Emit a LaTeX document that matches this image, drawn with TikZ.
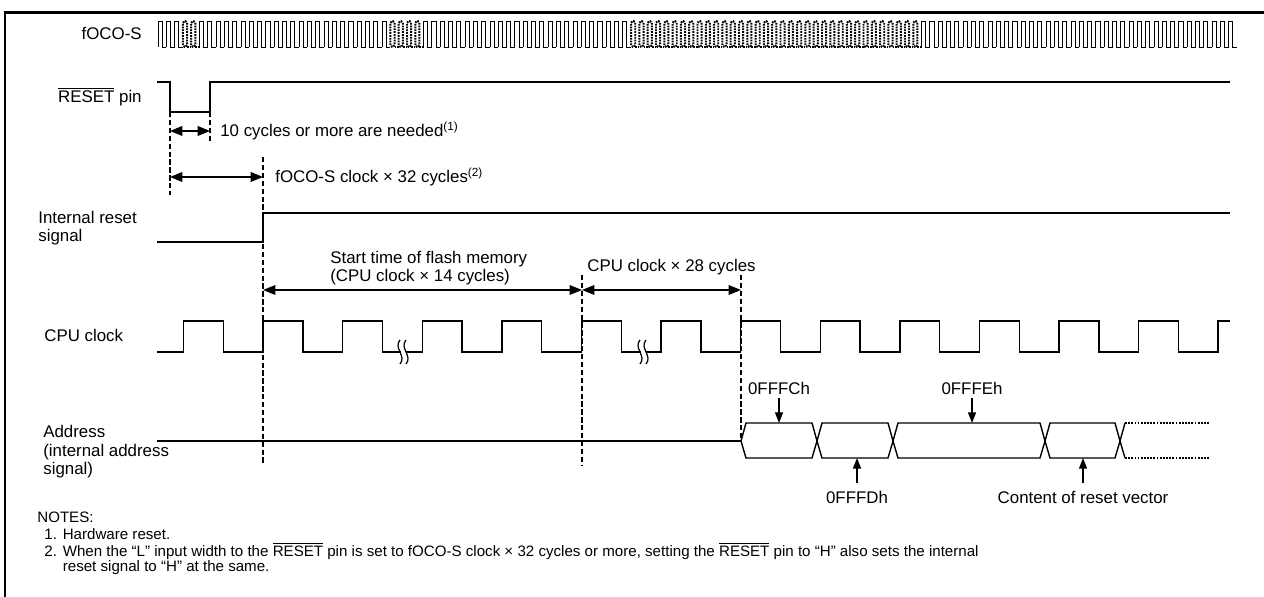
\documentclass[tikz,border=0pt]{standalone}
\usepackage{fontspec}
\setmainfont{Liberation Sans}
\usepackage{tikz}
\usetikzlibrary{arrows.meta,positioning,calc}
\tikzset{
    >={Triangle[length=7pt,width=5.5pt]},
    lbl/.style={inner sep=0pt, font={\fontsize{9.6pt}{10.5pt}\selectfont}},
    lbll/.style={lbl, anchor=west, align=left},
    wave/.style={draw, line width=0.8pt},
    fwave/.style={draw, line width=0.55pt},
    fdot/.style={draw, line width=1.1pt, dash pattern=on 1pt off 0.6pt},
    guide/.style={draw, line width=1.3pt, dash pattern=on 3pt off 1.5pt},
    dim/.style={draw, line width=0.6pt, <->},
    ptr/.style={draw, line width=0.8pt, -{Triangle[length=6pt,width=4.5pt]}},
    bus/.style={draw, line width=0.8pt},
    busdot/.style={draw, line width=0.9pt, dash pattern=on 1pt off 0.8pt},
    frame/.style={draw, line width=1.7pt},
    note/.style={inner sep=0pt, anchor=west, font={\fontsize{8.6pt}{10pt}\selectfont}},
}
\newcommand{\rst}{$\overline{\mbox{RESET}}$}
\newcommand{\nnum}[1]{\makebox[10.5pt][l]{#1}}

\begin{document}
\begin{tikzpicture}[x=0.02cm, y=-0.02cm]
\useasboundingbox (0,0) rectangle (1264,597);
% frame
\coordinate (fr0) at (5,597);
\coordinate (fr1) at (5,13);
\coordinate (fr2) at (1264,13);
\draw[frame] (fr0) -- (fr1) -- (fr2);

% signal names
\node(foco) at (142,33)[lbl, anchor=east]{fOCO-S};
\node(rstpin) at (142,97)[lbl, anchor=east]{\rst{} pin};
\node(intrst) at (38,228)[lbll]{Internal reset\\signal};
\node(cpuclk) at (44,335)[lbll]{CPU clock};
\node(addr) at (43,452)[lbll]{Address\\(internal address\\signal)};

% fOCO-S clock
\foreach \a/\b in {0/2,5/27,32/56,92/129}
  \foreach \i in {\a,...,\b}
    \draw[fwave] ({158+8.3*\i},47) -- ++(0,-26) -- ++(4.15,0) -- ++(0,26) -- ++(4.15,0);
\foreach \a/\b in {3/4,28/31,57/91}
  \foreach \i in {\a,...,\b}{
    \draw[fdot, rounded corners=1pt] ({158+8.3*\i},47) -- ++(0,-26) -- ++(4.15,0) -- ++(0,26) -- cycle;
    \draw[fdot] ({162.15+8.3*\i},47) -- ++(4.15,0);
  }

% RESET pin, internal reset, address
\draw[wave] (157,82) -- (170,82) -- (170,112) -- (210,112) -- (210,82) -- (1230,82);
\draw[wave] (157,242) -- (263,242) -- (263,213) -- (1230,213);
\draw[wave] (157,441) -- (741,441);

% CPU clock
\draw[wave] (157,352) foreach \k in {-2,0,...,22}{
    -- ({263+39.8*\k},352) -- ++(0,-31) -- ++(39.8,0) -- ++(0,31) }
    -- (1218,352) -- (1218,321) -- (1230,321);
\foreach \bx in {403,643}{
  \fill[white] ({\bx-2},348) rectangle ({\bx+3},356);
  \draw[line width=0.7pt] ({\bx-3},340) .. controls ({\bx-10},348) and ({\bx+4},356) .. ({\bx-3},364);
  \draw[line width=0.7pt] ({\bx+3},340) .. controls ({\bx-4},348) and ({\bx+10},356) .. ({\bx+3},364);
}

% guide lines
\coordinate (g1t) at (170,112);
\coordinate (g1b) at (170,195);
\coordinate (g2t) at (210,112);
\coordinate (g2b) at (210,143);
\coordinate (g3t) at (263,157);
\coordinate (g3b) at (263,465);
\coordinate (g4t) at (582,275);
\coordinate (g4b) at (582,465);
\coordinate (g5t) at (741,275);
\coordinate (g5b) at (741,441);
\foreach \g in {1,...,5}
  \draw[guide] (g\g t) -- (g\g b);

% timing spans
\coordinate (d1a) at (170,131);
\coordinate (d1b) at (210,131);
\coordinate (d2a) at (170,177);
\coordinate (d2b) at (263,177);
\coordinate (d3a) at (263,290);
\coordinate (d3b) at (582,290);
\coordinate (d4b) at (741,290);
\draw[dim, line width=0.8pt] (d1a) -- (d1b);
\draw[dim, line width=0.8pt] (d2a) -- (d2b);
\draw[dim] (d3a) -- (d3b);
\draw[dim] (d3b) -- (d4b);
\node(need) at (220,131)[lbll]{10 cycles or more are needed\textsuperscript{(1)}};
\node(foco32) at (275,177)[lbll]{fOCO-S clock × 32 cycles\textsuperscript{(2)}};
\node(flash) at (330,268)[lbll]{Start time of flash memory\\(CPU clock × 14 cycles)};
\node(cpu28) at (587,267)[lbll]{CPU clock × 28 cycles};

% address bus
\foreach \p/\q in {741/817,817/893,893/1045,1045/1120}
  \draw[bus] (\p,441) -- ({\p+5},423) -- ({\q-5},423) -- (\q,441) -- ({\q-5},458) -- ({\p+5},458) -- cycle;
\coordinate (bend) at (1120,441);
\draw[bus] (bend) -- (1125,423) (bend) -- (1125,458);
\draw[busdot] (1125,423) -- (1210,423) (1125,458) -- (1210,458);

\node(afc) at (779,388)[lbl]{0FFFCh};
\node(afe) at (972,388)[lbl]{0FFFEh};
\node(afd) at (857,497)[lbl]{0FFFDh};
\node(avec) at (1083,497)[lbl]{Content of reset vector};
\coordinate (pfc) at (779,423);
\coordinate (pfe) at (972,423);
\coordinate (pfd) at (857,458);
\coordinate (pvec) at (1083,458);
\draw[ptr, shorten <=2pt] (afc.south) -- (pfc);
\draw[ptr, shorten <=2pt] (afe.south) -- (pfe);
\draw[ptr, shorten <=4pt] (afd.north) -- (pfd);
\draw[ptr, shorten <=4pt] (avec.north) -- (pvec);

% notes
\node(notes) at (37,517)[note]{NOTES:};
\node(note1) at (44,534)[note]{\nnum{1.}Hardware reset.};
\node(note2) at (44,551)[note]{\nnum{2.}When the “L” input width to the \rst{} pin is set to fOCO-S clock × 32 cycles or more, setting the \rst{} pin to “H” also sets the internal};
\node(note2b) at (62.5,568)[note]{reset signal to “H” at the same.};
\end{tikzpicture}
\end{document}
